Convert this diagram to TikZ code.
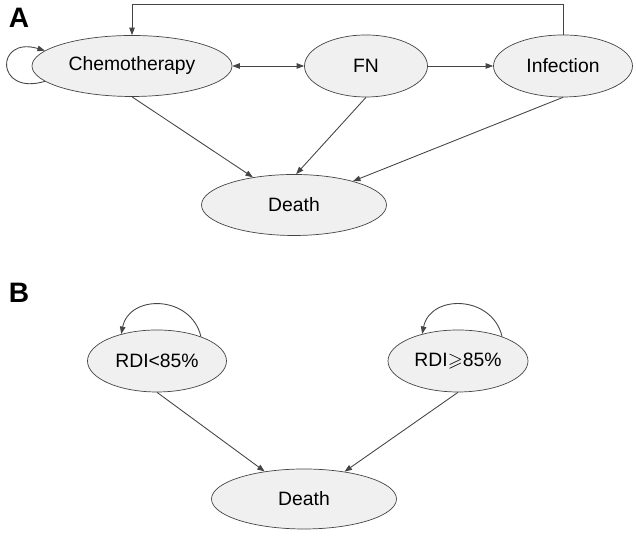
\documentclass[tikz,border=0pt]{standalone}
\usepackage{amssymb}
\usepackage{fontspec}
\setmainfont{Liberation Sans}
\usetikzlibrary{positioning}
\usetikzlibrary{shapes.geometric,arrows.meta}
\definecolor{edgegray}{HTML}{454545}
\definecolor{fillgray}{HTML}{F0F0F0}
\tikzset{
 stnode/.style={ellipse,draw=edgegray,fill=fillgray,inner sep=0pt,
  font=\fontsize{11}{13}\selectfont},
 link/.style={draw=edgegray,line width=0.5pt,-{Triangle[length=1.5mm,width=1.1mm]}},
 panel/.style={font=\fontsize{16}{18}\selectfont\bfseries}
}

\begin{document}
\begin{tikzpicture}
 \useasboundingbox (0,0) rectangle (12.72,10.78);
 % panel A
 \node[panel] (la) at (0.38,10.42) {A};
 \node[stnode,minimum width=4cm,minimum height=1.22cm] (chemo) at (2.64,9.46) {Chemotherapy};
 \node[stnode,minimum width=2.46cm,minimum height=1.24cm] (fn) at (7.32,9.46) {FN};
 \node[stnode,minimum width=2.78cm,minimum height=1.24cm] (inf) at (11.26,9.46) {Infection};
 \node[stnode,minimum width=3.7cm,minimum height=1.22cm] (deatha) at (5.88,6.68) {Death};
 \draw[link,{Triangle[length=1.5mm,width=1.1mm]}-{Triangle[length=1.5mm,width=1.1mm]}] (chemo) -- (fn);
 \draw[link] (fn) -- (inf);
 \draw[link] (inf.north) -- ++(0,0.6) -| (chemo.north);
 \draw[link] (chemo.190) .. controls +(-1.0,-0.3) and +(-1.0,0.3) .. (chemo.170);
 \draw[link] (chemo.south) -- (deatha.146);
 \draw[link] (fn.south) -- (deatha.86);
 \draw[link] (inf.south) -- (deatha.22);
 % panel B
 \node[panel] (lb) at (0.38,4.92) {B};
 \node[stnode,minimum width=2.78cm,minimum height=1.24cm] (lo) at (3.14,3.56) {RDI<85\%};
 \node[stnode,minimum width=2.8cm,minimum height=1.24cm] (hi) at (9.16,3.56) {RDI$\geqslant$85\%};
 \node[stnode,minimum width=3.7cm,minimum height=1.2cm] (deathb) at (6.08,0.80) {Death};
 \draw[link] (lo.29) .. controls +(-0.2,0.84) and +(0.16,0.8) .. (lo.143);
 \draw[link] (hi.29) .. controls +(-0.2,0.84) and +(0.16,0.8) .. (hi.143);
 \draw[link] (lo.south) -- (deathb.145);
 \draw[link] (hi.south) -- (deathb.34);
\end{tikzpicture}
\end{document}
